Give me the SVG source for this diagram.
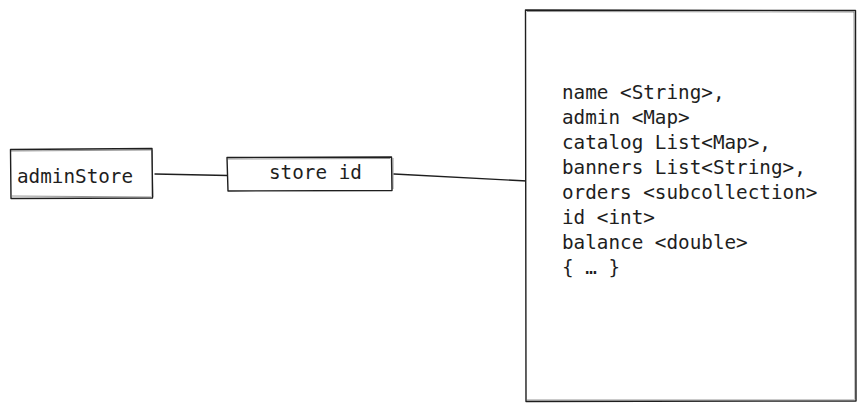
<svg xmlns="http://www.w3.org/2000/svg" width="865" height="412" viewBox="0 0 865 412">
<style>
.box{fill:#fff;stroke:#1e1e1e;stroke-width:1.4;stroke-linejoin:round}
.sk{fill:none;stroke:#1e1e1e;stroke-width:0.8;opacity:0.6}
.ln{fill:none;stroke:#1e1e1e;stroke-width:1.3;stroke-linecap:round}
text{font-family:"DejaVu Sans Mono","Liberation Mono",monospace;font-size:19.3px;fill:#1e1e1e}
</style>
<rect width="865" height="412" fill="#fff"/>
<g id="connectors">
<path class="ln" d="M155 174 L228 175.5"/>
<path class="ln" d="M394 174 L527 181"/>
</g>
<g id="adminStore">
<path class="box" d="M10.5 149.5 L152 148.5 L152.5 198 L11 198.5 Z"/>
<path class="sk" d="M11 151 L151 150 M152 150 L153 197 M151 197 L12 196"/>
<text x="17" y="183">adminStore</text>
</g>
<g id="storeId">
<path class="box" d="M227 157.5 L391.5 157 L392 190.5 L228 191 Z"/>
<path class="sk" d="M228 159 L390 158.5 M393 158 L393 189"/>
<text x="269" y="179">store id</text>
</g>
<g id="storeDoc">
<path class="box" d="M525.5 10 L855.5 10.5 L856 401 L526 401.5 Z"/>
<path class="sk" d="M527 11.5 L854 12 M854 12 L855 399 M855 400 L527 400"/>
<text x="562" y="99">name &lt;String&gt;,</text>
<text x="562" y="124">admin &lt;Map&gt;</text>
<text x="562" y="149">catalog List&lt;Map&gt;,</text>
<text x="562" y="174">banners List&lt;String&gt;,</text>
<text x="562" y="199">orders &lt;subcollection&gt;</text>
<text x="562" y="224">id &lt;int&gt;</text>
<text x="562" y="249">balance &lt;double&gt;</text>
<text x="562" y="274">{ … }</text>
</g>
</svg>
